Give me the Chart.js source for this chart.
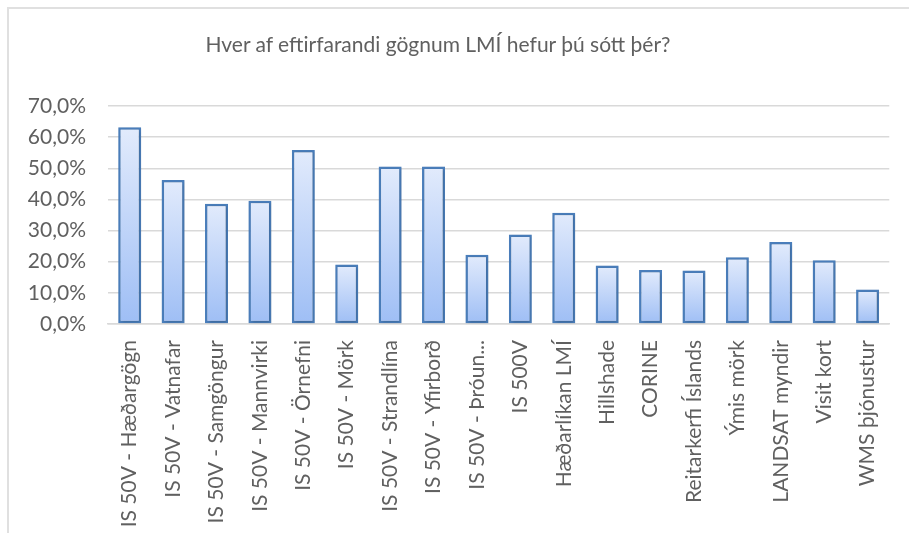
<!DOCTYPE html>
<html>
<head>
<meta charset="utf-8">
<script src="https://cdn.jsdelivr.net/npm/chart.js@4.4.1/dist/chart.umd.min.js"></script>
<style>
  html, body { margin: 0; padding: 0; background: #fff; }
  #wrap { position: relative; width: 909px; height: 533px; overflow: hidden; }
  #frame { position: absolute; left: 7px; top: 7px; width: 940px; height: 560px; border: 2px solid #e0e0e0; box-sizing: border-box; }
  #title { position: absolute; left: 0; top: 32px; width: 876px; text-align: center; font-family: Lato, sans-serif; font-size: 21px; line-height: 24px; color: #606060; }
  canvas { position: absolute; left: 0; top: 0; }
</style>
</head>
<body>
<div id="wrap">
  <div id="frame"></div>
  <canvas id="chart" width="909" height="533"></canvas>
  <div id="title">Hver af eftirfarandi gögnum LMÍ hefur þú sótt þér?</div>
</div>
<script>
// categories and answers (% of respondents)
const categories = [
  'IS 50V - Hæðargögn', 'IS 50V - Vatnafar', 'IS 50V - Samgöngur', 'IS 50V - Mannvirki',
  'IS 50V - Örnefni', 'IS 50V - Mörk', 'IS 50V - Strandlína', 'IS 50V - Yfirborð',
  'IS 50V - Þróun...', 'IS 500V', 'Hæðarlíkan LMÍ', 'Hillshade', 'CORINE',
  'Reitarkerfi Íslands', 'Ýmis mörk', 'LANDSAT myndir', 'Visit kort', 'WMS þjónustur'
];
const percentages = [63.2, 46.2, 38.6, 39.6, 55.9, 19.1, 50.6, 50.6, 22.2, 28.7, 35.7, 18.8, 17.3, 17.2, 21.4, 26.3, 20.5, 11.1];
const yTickLabels = ['0,0%', '10,0%', '20,0%', '30,0%', '40,0%', '50,0%', '60,0%', '70,0%'];

const textColor = '#606060';

// each bar gets its own light-to-darker gradient, like the Excel fill
function barGradient(c) {
  const chart = c.chart;
  if (c.type !== 'data' || !chart.chartArea) return '#c4d7f8';
  const y = chart.scales.y;
  const top = y.getPixelForValue(c.parsed.y);
  const bottom = y.getPixelForValue(0);
  const g = chart.ctx.createLinearGradient(0, top, 0, bottom);
  g.addColorStop(0, '#e2ebfc');
  g.addColorStop(1, '#9ebef5');
  return g;
}

const barShadow = {
  id: 'barShadow',
  beforeDatasetsDraw(chart) {
    const ctx = chart.ctx;
    ctx.save();
    ctx.shadowColor = 'rgba(0,0,0,0.22)';
    ctx.shadowBlur = 3;
    ctx.shadowOffsetX = 1;
    ctx.shadowOffsetY = 1;
  },
  afterDatasetsDraw(chart) {
    chart.ctx.restore();
  }
};

new Chart(document.getElementById('chart'), {
  type: 'bar',
  data: {
    labels: categories,
    datasets: [{
      data: percentages,
      backgroundColor: barGradient,
      borderColor: '#4a7ebb',
      borderWidth: 2.5,
      borderSkipped: false,
      barPercentage: 0.53,
      categoryPercentage: 1
    }]
  },
  options: {
    responsive: false,
    animation: false,
    layout: { padding: { top: 106, left: 27, right: 8, bottom: 0 } },
    plugins: {
      legend: { display: false },
      tooltip: { enabled: false },
      title: { display: false }
    },
    scales: {
      x: {
        grid: { display: false, drawTicks: false },
        border: { color: '#d9d9d9', width: 1.5 },
        ticks: {
          autoSkip: false,
          minRotation: 90,
          maxRotation: 90,
          padding: 16,
          color: textColor,
          font: { family: 'Lato', size: 21 }
        },
        afterFit(scale) { scale.height = 209; }
      },
      y: {
        min: 0,
        max: 70,
        grid: { color: '#d9d9d9', lineWidth: 1.5, drawTicks: false },
        border: { display: false },
        ticks: {
          stepSize: 10,
          padding: 22,
          color: textColor,
          font: { family: 'Lato', size: 21 },
          callback: (v) => yTickLabels[Math.round(v / 10)]
        },
        afterFit(scale) { scale.width = 81; }
      }
    }
  },
  plugins: [barShadow]
});
</script>
</body>
</html>
